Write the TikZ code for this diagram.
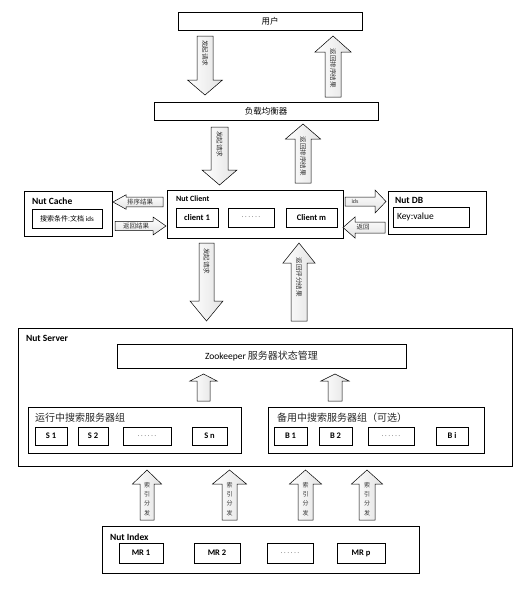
\documentclass[tikz,border=0pt]{standalone}
\usepackage{fontspec}
\setmainfont{Carlito}
\newfontfamily\cjk{Noto Sans CJK SC}
\usetikzlibrary{calc,positioning}

% block arrow: [style] from, to, half shaft, half head, head length
\newcommand{\blockarr}[6][vup]{%
  \coordinate (hb) at ($(#3)!#6pt!(#2)$);
  \path[#1] ($(#2)!#4pt!90:(#3)$) -- ($(hb)!#4pt!90:(#3)$) -- ($(hb)!#5pt!90:(#3)$)
    -- (#3) -- ($(hb)!#5pt!-90:(#3)$) -- ($(hb)!#4pt!-90:(#3)$) -- ($(#2)!#4pt!-90:(#3)$) -- cycle;
}

\begin{document}
\begin{tikzpicture}[x=1pt, y=1pt, line width=0.6pt,
  box/.style = {draw, inner sep=0pt},
  lbl/.style = {inner sep=0pt, anchor=west, font=\bfseries\fontsize{9.5}{10}\selectfont},
  grp/.style = {inner sep=0pt, anchor=west, text=black!85, font=\cjk\fontsize{10}{10}\selectfont},
  zh/.style = {font=\cjk\fontsize{#1}{#1}\selectfont},
  atext/.style = {inner sep=0pt, text=black!80, font=\cjk\fontsize{6.5}{6.5}\selectfont},
  itext/.style = {inner sep=0pt, align=center, text=black!80, font=\cjk\fontsize{6}{9.2}\selectfont},
  vup/.style = {draw, line width=0.5pt, left color=white, right color=gray!22},
  hsh/.style = {draw, line width=0.5pt, top color=white, bottom color=gray!22},
  item/.style = {box, font=\bfseries\fontsize{8.5}{9}\selectfont},
  dots/.style = {box, text=gray, font=\fontsize{8}{8}\selectfont}]
\useasboundingbox (0,0) rectangle (524,-589);

% user and load balancer
\node[box, zh=8.5, minimum width=184, minimum height=18] (user) at (270,-21) {用户};
\node[box, zh=8.5, minimum width=224, minimum height=18] (lb) at (266,-111) {负载均衡器};

\coordinate (a1s) at (205,-36); \coordinate (a1e) at (205,-95);
\blockarr{a1s}{a1e}{8}{17.5}{15}
\node[atext, rotate=-90] (a1t) at (205,-53) {发起请求};
\coordinate (a2s) at (333,-97); \coordinate (a2e) at (333,-36);
\blockarr{a2s}{a2e}{8}{18}{16}
\node[atext, rotate=-90] (a2t) at (333,-68) {返回排序结果};

% client layer
\coordinate (a3s) at (219.5,-127); \coordinate (a3e) at (219.5,-185);
\blockarr{a3s}{a3e}{8.5}{17.5}{15}
\node[atext, rotate=-90] (a3t) at (219.5,-144) {发起请求};
\coordinate (a4s) at (303,-183); \coordinate (a4e) at (303,-124);
\blockarr{a4s}{a4e}{8}{17.5}{15}
\node[atext, rotate=-90] (a4t) at (303,-156) {返回排序结果};

\node[box, minimum width=88, minimum height=45] (cache) at (68,-213.5) {};
\node[lbl] (cachet) at ($(cache.north west)+(8,-10)$) {Nut Cache};
\node[box, minimum width=70, minimum height=19, font=\fontsize{7}{7}\selectfont] (cachekey) at (67,-218.5) {{\cjk 搜索条件:文档} ids};

\node[box, minimum width=176, minimum height=48] (client) at (255,-214) {};
\node[lbl, font=\bfseries\fontsize{8}{8}\selectfont] (clientt) at ($(client.north west)+(9,-9)$) {Nut Client};
\node[item, minimum width=42, minimum height=19] (c1) at (197,-217.5) {client 1};
\node[dots, minimum width=46, minimum height=19] (cdots) at (251,-217.5) {.\,.\,.\,.\,.\,.};
\node[item, minimum width=51, minimum height=19] (cm) at (311.5,-217.5) {Client m};

\node[box, minimum width=98, minimum height=43] (db) at (437,-212.5) {};
\node[lbl] (dbt) at ($(db.north west)+(7,-10)$) {Nut DB};
\node[box, minimum width=76, minimum height=20, text width=68, font=\fontsize{9.5}{10}\selectfont] (kv) at (431,-217) {Key:value};

\coordinate (a5s) at (163,-202); \coordinate (a5e) at (113,-202);
\blockarr[hsh]{a5s}{a5e}{4.8}{7.2}{13}
\node[atext] (a5t) at (140,-202) {排序结果};
\coordinate (a6s) at (115,-226); \coordinate (a6e) at (166,-226);
\blockarr[hsh]{a6s}{a6e}{4.7}{9}{13}
\node[atext] (a6t) at (136,-226) {返回结果};
\coordinate (a7s) at (345,-201.5); \coordinate (a7e) at (386,-201.5);
\blockarr[hsh]{a7s}{a7e}{4.5}{11.5}{11}
\node[atext, font=\fontsize{6}{6}\selectfont] (a7t) at (355,-201.5) {ids};
\coordinate (a8s) at (385,-227.5); \coordinate (a8e) at (343,-227.5);
\blockarr[hsh]{a8s}{a8e}{5.5}{10.5}{12}
\node[atext] (a8t) at (363,-227.5) {返回};

% server layer
\coordinate (a9s) at (206.5,-243); \coordinate (a9e) at (206.5,-321);
\blockarr{a9s}{a9e}{7.5}{16.5}{20}
\node[atext, rotate=-90] (a9t) at (206.5,-261) {发起请求};
\coordinate (a10s) at (299,-321); \coordinate (a10e) at (299,-243);
\blockarr{a10s}{a10e}{8}{16}{20}
\node[atext, rotate=-90] (a10t) at (299,-277) {返回评分结果};

\node[box, minimum width=494, minimum height=138] (server) at (265,-397) {};
\node[lbl] (servert) at ($(server.north west)+(8,-11)$) {Nut Server};
\node[box, minimum width=289, minimum height=24] (zk) at (261.5,-356)
  {\fontsize{9.5}{10}\selectfont Zookeeper {\cjk\fontsize{10}{10}\selectfont\color{black!85} 服务器状态管理}};

\coordinate (a11s) at (203.5,-401); \coordinate (a11e) at (203.5,-374);
\blockarr{a11s}{a11e}{6.5}{13.5}{7}
\coordinate (a12s) at (335,-401); \coordinate (a12e) at (335,-374);
\blockarr{a12s}{a12e}{7}{14}{7}

\node[box, minimum width=213, minimum height=46] (run) at (134.5,-430) {};
\node[grp] (runt) at ($(run.north west)+(7,-11)$) {运行中搜索服务器组};
\node[item, minimum width=32, minimum height=18] (s1) at (51,-436) {S 1};
\node[item, minimum width=30, minimum height=18] (s2) at (93,-436) {S 2};
\node[dots, minimum width=48, minimum height=18] (sdots) at (147,-436) {.\,.\,.\,.\,.\,.};
\node[item, minimum width=35, minimum height=18] (sn) at (209.5,-436) {S n};

\node[box, minimum width=216, minimum height=46] (bak) at (376,-430) {};
\node[grp] (bakt) at ($(bak.north west)+(9,-11)$) {备用中搜索服务器组（可选）};
\node[item, minimum width=33, minimum height=18] (b1) at (290.5,-436) {B 1};
\node[item, minimum width=33, minimum height=18] (b2) at (335.5,-436) {B 2};
\node[dots, minimum width=46, minimum height=18] (bdots) at (391,-436) {.\,.\,.\,.\,.\,.};
\node[item, minimum width=32, minimum height=18] (bi) at (452,-436) {B i};

% index layer
\coordinate (a13s) at (147,-520); \coordinate (a13e) at (147,-470);
\blockarr{a13s}{a13e}{7}{14.5}{14}
\node[itext] (a13t) at (147,-499) {索\\引\\分\\发};
\coordinate (a14s) at (229.5,-520); \coordinate (a14e) at (229.5,-470);
\blockarr{a14s}{a14e}{7.5}{17}{14}
\node[itext] (a14t) at (229.5,-499) {索\\引\\分\\发};
\coordinate (a15s) at (305.5,-520); \coordinate (a15e) at (305.5,-470);
\blockarr{a15s}{a15e}{7.5}{16}{14}
\node[itext] (a15t) at (305.5,-499) {索\\引\\分\\发};
\coordinate (a16s) at (367,-520); \coordinate (a16e) at (367,-470);
\blockarr{a16s}{a16e}{8}{15.5}{14}
\node[itext] (a16t) at (367,-499) {索\\引\\分\\发};

\node[box, minimum width=317, minimum height=47] (index) at (260.5,-549.5) {};
\node[lbl] (indext) at ($(index.north west)+(8,-11)$) {Nut Index};
\node[item, minimum width=44, minimum height=20] (mr1) at (141,-553) {MR 1};
\node[item, minimum width=46, minimum height=20] (mr2) at (217,-553) {MR 2};
\node[dots, minimum width=46, minimum height=20] (mrdots) at (290,-553) {.\,.\,.\,.\,.\,.};
\node[item, minimum width=48, minimum height=20] (mrp) at (361,-553) {MR p};
\end{tikzpicture}
\end{document}
